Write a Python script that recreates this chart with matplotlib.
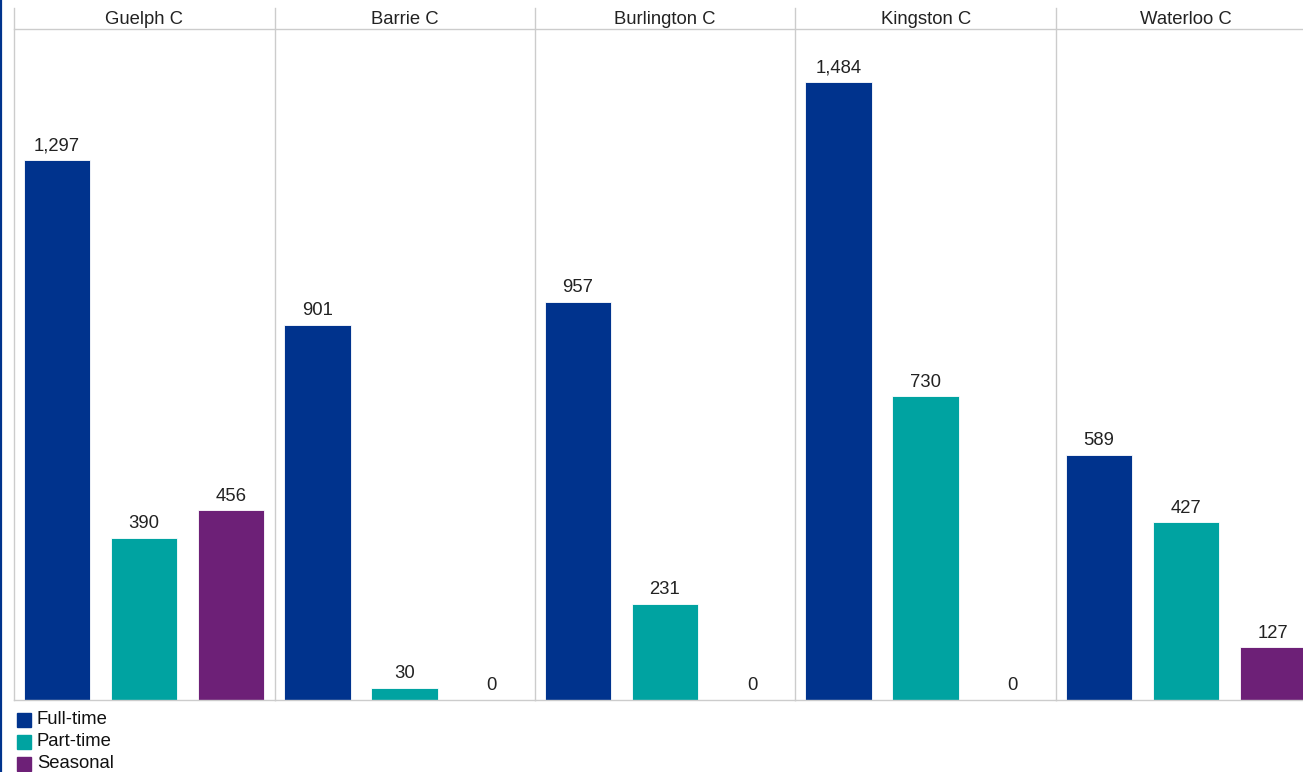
import matplotlib
matplotlib.use("Agg")
import matplotlib.pyplot as plt
from matplotlib.lines import Line2D
from matplotlib.patches import Rectangle

plt.rcParams['font.family'] = ['Liberation Sans', 'DejaVu Sans']

colleges = ["Guelph C", "Barrie C", "Burlington C", "Kingston C", "Waterloo C"]
series = ["Full-time", "Part-time", "Seasonal"]
full_time = [1297, 901, 957, 1484, 589]
part_time = [390, 30, 231, 730, 427]
seasonal = [456, 0, 0, 0, 127]
colors = ["#00338D", "#00A3A1", "#6D2077"]

W, H = 1303, 772
fig = plt.figure(figsize=(W / 100, H / 100), dpi=100)

left_px = 14
top_px, bottom_px = 29, 700
panel_w = 260.5
ymax = 1612
grid_col = "#CCCCCC"
fs = 13.3

values = [full_time, part_time, seasonal]
for i, college in enumerate(colleges):
    x0 = left_px + i * panel_w
    ax = fig.add_axes([x0 / W, 1 - bottom_px / H, panel_w / W, (bottom_px - top_px) / H])
    xs = [0, 1, 2]
    vals = [values[s][i] for s in range(3)]
    ax.bar(xs, vals, width=0.759, color=colors, edgecolor="white", linewidth=0.6)
    for x, v in zip(xs, vals):
        ax.annotate(f"{v:,}", (x, v), xytext=(0, 4), textcoords="offset points",
                    ha="center", va="bottom", fontsize=fs, color="#222222")
    ax.set_xlim(-0.494, 2.5)
    ax.set_ylim(0, ymax)
    ax.set_xticks([])
    ax.set_yticks([])
    for side in ["top", "right", "left"]:
        ax.spines[side].set_visible(False)
    ax.spines["bottom"].set_color(grid_col)
    ax.spines["bottom"].set_linewidth(1)
    # panel title
    fig.text((x0 + panel_w / 2) / W, 1 - 19 / H, college, ha="center", va="center",
             fontsize=fs, color="#222222")
    # panel divider
    fig.add_artist(Line2D([x0 / W, x0 / W], [1 - 8 / H, 1 - bottom_px / H],
                          color=grid_col, linewidth=1))

# header rule
fig.add_artist(Line2D([left_px / W, 1.0], [1 - top_px / H, 1 - top_px / H],
                      color=grid_col, linewidth=1))
# left accent rule
fig.add_artist(Line2D([1 / W, 1 / W], [0, 1], color="#00338D", linewidth=1.6))

# legend
for k, (name, c) in enumerate(zip(series, colors)):
    yc = 720 + k * 22
    fig.add_artist(Rectangle((17 / W, 1 - (yc + 7) / H), 14 / W, 14 / H,
                             color=c, transform=fig.transFigure))
    fig.text(37 / W, 1 - yc / H, name, ha="left", va="center", fontsize=fs, color="#111111")

fig.savefig("out.png", dpi=100)
